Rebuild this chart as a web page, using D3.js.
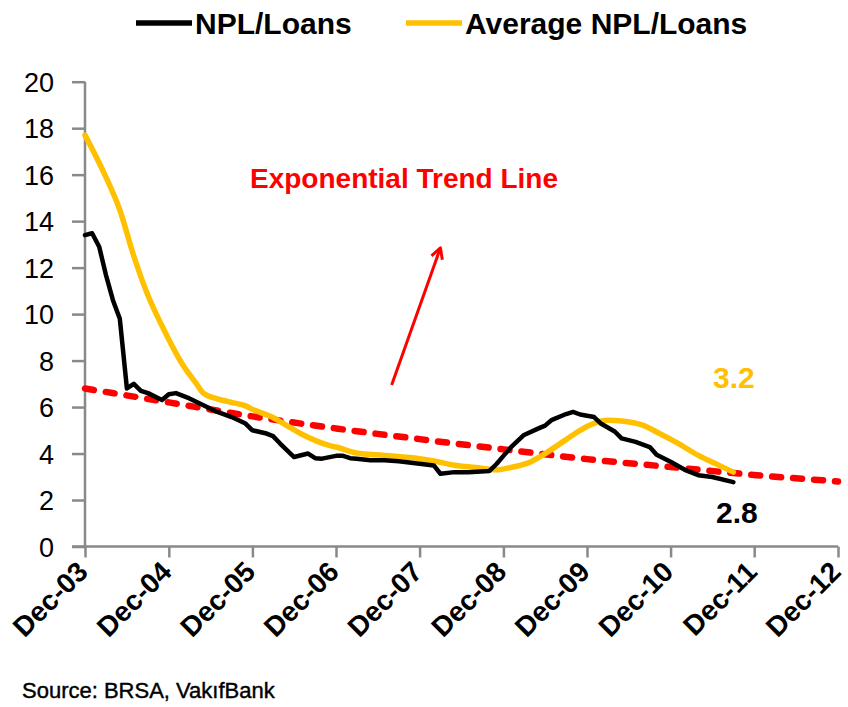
<!DOCTYPE html>
<html>
<head>
<meta charset="utf-8">
<script src="https://cdn.jsdelivr.net/npm/d3@7"></script>
<style>
  html, body { margin: 0; padding: 0; background: #fff; }
  svg { display: block; font-family: "Liberation Sans", Arial, sans-serif; }
</style>
</head>
<body>
<svg id="chart" width="848" height="707"></svg>
<script>
// ---------------- DATA ----------------
const nplDates = ["2003-12","2004-01","2004-02","2004-03","2004-04","2004-05","2004-06","2004-07","2004-08","2004-09",
  "2004-11","2004-12","2005-01","2005-03","2005-05","2005-07","2005-09","2005-11","2005-12","2006-02","2006-03","2006-04",
  "2006-06","2006-08","2006-09","2006-10","2006-12","2007-01","2007-02","2007-03","2007-05","2007-07","2007-09","2007-12",
  "2008-02","2008-03","2008-05","2008-07","2008-10","2008-11","2008-12","2009-01","2009-03","2009-05","2009-06","2009-07",
  "2009-09","2009-10","2009-11","2010-01","2010-02","2010-04","2010-05","2010-07","2010-09","2010-10","2010-12","2011-02",
  "2011-04","2011-06","2011-09"];
const nplValues = [13.4,13.48,12.9,11.7,10.6,9.8,6.8,7.0,6.7,6.6,
  6.3,6.55,6.6,6.37,6.08,5.79,5.57,5.29,5.0,4.86,4.75,4.43,
  3.85,4.0,3.8,3.78,3.9,3.9,3.8,3.78,3.71,3.71,3.67,3.56,
  3.49,3.13,3.2,3.2,3.25,3.55,3.9,4.25,4.8,5.07,5.2,5.45,
  5.7,5.79,5.68,5.57,5.28,4.95,4.65,4.5,4.28,3.95,3.65,3.3,
  3.07,2.99,2.77];

const avgDates = ["2003-12","2004-03","2004-05","2004-07","2004-09","2004-11","2005-02","2005-04","2005-05","2005-07",
  "2005-09","2005-11","2005-12","2006-03","2006-05","2006-07","2006-11","2006-12","2007-03","2007-07","2007-12","2008-02",
  "2008-05","2008-08","2008-11","2009-01","2009-04","2009-06","2009-09","2009-11","2010-01","2010-03","2010-05","2010-08",
  "2010-10","2011-01","2011-04","2011-07","2011-09"];
const avgValues = [17.7,15.9,14.48,12.5,10.8,9.5,7.8,7.0,6.6,6.35,
  6.2,6.05,5.9,5.55,5.2,4.85,4.35,4.28,4.02,3.92,3.78,3.68,
  3.5,3.4,3.3,3.4,3.65,4.0,4.6,5.0,5.3,5.43,5.4,5.22,
  4.93,4.45,3.92,3.49,3.2];

const trendDates = ["2003-12","2004-12","2005-12","2006-12","2007-12","2008-12","2009-12","2010-12","2011-12","2012-12"];
const trendValues = [6.8,6.2,5.6,5.08,4.62,4.18,3.76,3.42,3.08,2.8];

const xTickDates = ["2003-12","2004-12","2005-12","2006-12","2007-12","2008-12","2009-12","2010-12","2011-12","2012-12"];
const xTickLabels = ["Dec-03","Dec-04","Dec-05","Dec-06","Dec-07","Dec-08","Dec-09","Dec-10","Dec-11","Dec-12"];
const yTicks = [0,2,4,6,8,10,12,14,16,18,20];

const seriesNames = ["NPL/Loans","Average NPL/Loans"];
const seriesColors = ["#000000","#FFC000"];

const annotationText = "Exponential Trend Line";
const arrowFrom = ["2007-08", 6.95];
const arrowTo = ["2008-03", 12.85];
const lastAvgLabel = "3.2";
const lastNplLabel = "2.8";
const sourceText = "Source: BRSA, VakıfBank";

// ---------------- CHART ----------------
const parse = d3.timeParse("%Y-%m");
const svg = d3.select("#chart");

const x = d3.scaleTime()
  .domain([parse("2003-12"), parse("2012-12")])
  .range([85, 838]);
const y = d3.scaleLinear().domain([0, 20]).range([546.5, 81.7]);

const axisColor = "#898989";

// Y axis
const yAxis = svg.append("g").attr("transform", "translate(85,0)")
  .call(d3.axisLeft(y).tickValues(yTicks).tickSize(13).tickPadding(18).tickFormat(d3.format("d")));
yAxis.select(".domain").attr("stroke", axisColor).attr("stroke-width", 2.5).attr("d", `M0,${y(20)}V${y(0)}`);
yAxis.selectAll(".tick line").attr("stroke", axisColor).attr("stroke-width", 2.5);
yAxis.selectAll(".tick text").attr("font-size", 27).attr("fill", "#000")
  .attr("font-family", "'Liberation Sans', Arial, sans-serif").attr("dy", "0.36em");

// X axis
const xAxis = svg.append("g").attr("transform", `translate(0,${y(0)})`)
  .call(d3.axisBottom(x).tickValues(xTickDates.map(parse)).tickSize(11)
    .tickFormat((d, i) => xTickLabels[i]));
xAxis.select(".domain").attr("stroke", axisColor).attr("stroke-width", 2.5)
  .attr("d", `M72,0H${x(parse("2012-12"))}`);
xAxis.selectAll(".tick line").attr("stroke", axisColor).attr("stroke-width", 2.5);
xAxis.selectAll(".tick text")
  .attr("font-size", 28).attr("font-weight", "bold").attr("fill", "#000")
  .attr("font-family", "'Liberation Sans', Arial, sans-serif")
  .attr("text-anchor", "end")
  .attr("dy", 0).attr("y", 0)
  .attr("transform", "translate(4,27) rotate(-45)");

// Trend line
const trendLine = d3.line().x((d, i) => x(parse(trendDates[i]))).y(d => y(d)).curve(d3.curveMonotoneX);
svg.append("path").datum(trendValues)
  .attr("d", trendLine).attr("fill", "none")
  .attr("stroke", "#FF0000").attr("stroke-width", 6.5)
  .attr("stroke-dasharray", "9,12").attr("stroke-linecap", "round");

// Average line
const avgLine = d3.line().x((d, i) => x(parse(avgDates[i]))).y(d => y(d)).curve(d3.curveMonotoneX);
svg.append("path").datum(avgValues)
  .attr("d", avgLine).attr("fill", "none")
  .attr("stroke", seriesColors[1]).attr("stroke-width", 5.5)
  .attr("stroke-linejoin", "round").attr("stroke-linecap", "round");

// NPL line
const nplLine = d3.line().x((d, i) => x(parse(nplDates[i]))).y(d => y(d)).curve(d3.curveLinear);
svg.append("path").datum(nplValues)
  .attr("d", nplLine).attr("fill", "none")
  .attr("stroke", seriesColors[0]).attr("stroke-width", 4.5)
  .attr("stroke-linejoin", "round").attr("stroke-linecap", "round");

// Legend
const legendX = [136, 406];
seriesNames.forEach((name, i) => {
  svg.append("line")
    .attr("x1", legendX[i]).attr("x2", legendX[i] + 56)
    .attr("y1", 23).attr("y2", 23)
    .attr("stroke", seriesColors[i]).attr("stroke-width", 5.5);
  svg.append("text")
    .attr("x", legendX[i] + 59).attr("y", 34)
    .attr("font-size", 30).attr("font-weight", "bold").attr("fill", "#000")
    .text(name);
});

// Annotation
svg.append("text")
  .attr("x", 250).attr("y", 188)
  .attr("font-size", 28).attr("font-weight", "bold").attr("fill", "#FF0000")
  .text(annotationText);

const ax1 = x(parse(arrowFrom[0])), ay1 = y(arrowFrom[1]);
const ax2 = x(parse(arrowTo[0])), ay2 = y(arrowTo[1]);
svg.append("line").attr("x1", ax1).attr("y1", ay1).attr("x2", ax2).attr("y2", ay2)
  .attr("stroke", "#FF0000").attr("stroke-width", 3);
const ang = Math.atan2(ay2 - ay1, ax2 - ax1);
const hl = 12, ha = 0.5;
svg.append("path")
  .attr("d", `M${ax2 - hl * Math.cos(ang - ha)},${ay2 - hl * Math.sin(ang - ha)}L${ax2},${ay2}L${ax2 - hl * Math.cos(ang + ha)},${ay2 - hl * Math.sin(ang + ha)}`)
  .attr("fill", "none").attr("stroke", "#FF0000").attr("stroke-width", 3).attr("stroke-linejoin", "round");

// End labels
svg.append("text")
  .attr("x", 713).attr("y", 388)
  .attr("font-size", 30).attr("font-weight", "bold").attr("fill", seriesColors[1])
  .text(lastAvgLabel);
svg.append("text")
  .attr("x", 716).attr("y", 523)
  .attr("font-size", 30).attr("font-weight", "bold").attr("fill", "#000")
  .text(lastNplLabel);

// Source
svg.append("text")
  .attr("x", 22).attr("y", 698)
  .attr("font-size", 22).attr("fill", "#000")
  .attr("stroke", "#000").attr("stroke-width", 0.4)
  .text(sourceText);
</script>
</body>
</html>
